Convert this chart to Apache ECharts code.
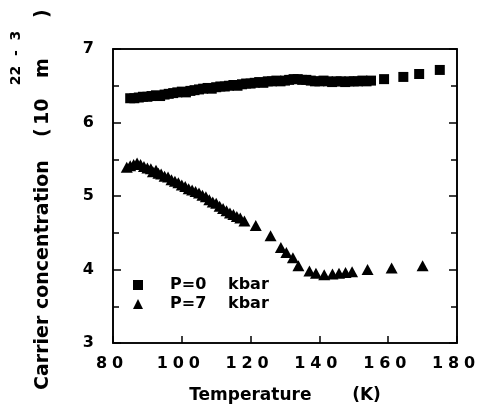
<!DOCTYPE html>
<html>
<head>
<meta charset="utf-8">
<script src="https://cdn.jsdelivr.net/npm/echarts@6/dist/echarts.min.js"></script>
<style>
html,body{margin:0;padding:0;background:#fff;}
#chart{width:484px;height:415px;}
</style>
</head>
<body>
<div id="chart"></div>
<script>
// ---- data ----
const seriesNames = ['P=0  kbar', 'P=7  kbar'];

const tempP0 = [85.0, 86.2, 87.5, 88.7, 90.0, 91.2, 92.5, 93.7, 95.0, 96.2, 97.5, 98.7,
  100.0, 101.2, 102.5, 103.7, 105.0, 106.2, 107.5, 108.7, 110.0, 111.2, 112.5, 113.7,
  115.0, 116.2, 117.5, 118.7, 120.0, 121.2, 122.5, 123.7, 125.0, 126.2, 127.5, 128.7,
  130.0, 131.2, 132.5, 133.7, 135.0, 136.2, 137.5, 138.7, 140.0, 141.2, 142.5, 143.7,
  145.0, 146.2, 147.5, 148.7, 150.0, 151.2, 152.5, 153.7, 155.0, 158.8, 164.4, 169.0, 175.0];
const concP0 = [6.33, 6.33, 6.34, 6.35, 6.35, 6.36, 6.37, 6.36, 6.38, 6.39, 6.40, 6.41,
  6.42, 6.41, 6.43, 6.44, 6.45, 6.46, 6.47, 6.46, 6.48, 6.49, 6.49, 6.50,
  6.51, 6.50, 6.52, 6.53, 6.53, 6.54, 6.55, 6.54, 6.56, 6.56, 6.57, 6.56,
  6.57, 6.58, 6.59, 6.59, 6.58, 6.58, 6.57, 6.56, 6.56, 6.57, 6.56, 6.55,
  6.56, 6.56, 6.55, 6.56, 6.56, 6.56, 6.57, 6.56, 6.57, 6.59, 6.62, 6.66, 6.715];

const tempP7 = [84.0, 85.0, 86.0, 87.0, 88.0, 89.0, 90.0, 91.0, 91.6, 92.5, 93.2, 94.0,
  95.0, 96.0, 97.0, 98.0, 99.0, 100.0, 101.0, 102.0, 103.0, 104.0, 105.0, 106.0,
  107.0, 108.0, 109.0, 110.0, 111.0, 112.0, 113.0, 114.0, 115.0, 116.0, 117.0, 118.2,
  121.5, 125.8, 128.8, 130.4, 132.3, 133.9, 137.1, 139.0, 141.4, 143.8, 145.7, 147.6,
  149.5, 154.0, 161.0, 170.0];
const concP7 = [5.39, 5.41, 5.43, 5.45, 5.43, 5.40, 5.38, 5.37, 5.33, 5.35, 5.31, 5.30,
  5.27, 5.26, 5.22, 5.20, 5.18, 5.15, 5.13, 5.10, 5.08, 5.06, 5.04, 5.01,
  4.99, 4.95, 4.92, 4.90, 4.86, 4.83, 4.80, 4.77, 4.75, 4.72, 4.70, 4.66,
  4.60, 4.46, 4.30, 4.23, 4.16, 4.05, 3.98, 3.95, 3.93, 3.94, 3.95, 3.96,
  3.97, 4.00, 4.02, 4.05];

const xTicks = [80, 100, 120, 140, 160, 180];
const yTicks = [3, 4, 5, 6, 7];

// ---- chart ----
const FONT = '"DejaVu Sans", "Liberation Sans", Arial, sans-serif';
const chart = echarts.init(document.getElementById('chart'), null, {renderer: 'canvas'});

function zip(xs, ys) { return xs.map((x, i) => [x, ys[i]]); }

const xLabelFmt = v => '{d|' + String(v).split('').join('}{d|') + '}{p|}';

const axisLineStyle = {color: '#000', width: 1.6};
const tickStyle = {color: '#000', width: 1.5};
const B = {fontFamily: FONT, fontWeight: 'bold', color: '#000'};

const option = {
  animation: false,
  backgroundColor: '#fff',
  grid: {left: 113, right: 23, top: 49, bottom: 72, containLabel: false,
         show: true, borderColor: '#000', borderWidth: 1.6, backgroundColor: 'transparent'},
  xAxis: [{
    type: 'value', position: 'bottom',
    min: xTicks[0], max: xTicks[xTicks.length - 1], interval: 20,
    name: '{a|Temperature}{b|(K)}', nameLocation: 'middle', nameGap: 44,
    nameTextStyle: {rich: {
      a: Object.assign({fontSize: 17, width: 163, align: 'left'}, B),
      b: Object.assign({fontSize: 17, align: 'left'}, B)
    }},
    axisLine: {show: true, onZero: false, lineStyle: axisLineStyle},
    axisTick: {show: true, inside: true, length: 7, lineStyle: tickStyle},
    splitLine: {show: false},
    axisLabel: {
      margin: 13, color: '#000', formatter: xLabelFmt,
      rich: {
        d: Object.assign({fontSize: 16, width: 16, align: 'center'}, B),
        p: {width: 7}
      }
    }
  }, {
    type: 'value', position: 'top',
    min: xTicks[0], max: xTicks[xTicks.length - 1], interval: 20,
    axisLine: {show: true, onZero: false, lineStyle: axisLineStyle},
    axisTick: {show: false}, axisLabel: {show: false}, splitLine: {show: false}
  }],
  yAxis: [{
    type: 'value', position: 'left',
    min: yTicks[0], max: yTicks[yTicks.length - 1], interval: 1,
    name: '{a|Carrier concentration}{b|(}{c|10}{d|m}{e|)}{f|}',
    nameLocation: 'middle', nameGap: 60, nameRotate: 90,
    nameTextStyle: {
      rich: {
        a: Object.assign({fontSize: 19, width: 253, align: 'left'}, B),
        b: Object.assign({fontSize: 19, width: 12, align: 'left'}, B),
        c: Object.assign({fontSize: 19, width: 47, align: 'left'}, B),
        d: Object.assign({fontSize: 19, width: 60, align: 'left'}, B),
        e: Object.assign({fontSize: 19, width: 8, align: 'left'}, B),
        f: {width: 8}
      }
    },
    axisLine: {show: true, onZero: false, lineStyle: axisLineStyle},
    axisTick: {show: true, inside: true, length: 8, lineStyle: tickStyle},
    minorTick: {show: true, splitNumber: 2, length: 6, lineStyle: tickStyle},
    splitLine: {show: false}, minorSplitLine: {show: false},
    axisLabel: Object.assign({margin: 19, fontSize: 16}, B)
  }, {
    type: 'value', position: 'right',
    min: yTicks[0], max: yTicks[yTicks.length - 1], interval: 1,
    axisLine: {show: true, onZero: false, lineStyle: axisLineStyle},
    axisTick: {show: true, inside: true, length: 8, lineStyle: tickStyle},
    minorTick: {show: true, splitNumber: 2, length: 6, lineStyle: tickStyle},
    axisLabel: {show: false}, splitLine: {show: false}, minorSplitLine: {show: false}
  }],
  legend: {
    orient: 'vertical', left: 128, top: 272,
    itemWidth: 10, itemHeight: 10, itemGap: 3,
    data: [{name: seriesNames[0], icon: 'rect'}, {name: seriesNames[1], icon: 'triangle'}],
    itemStyle: {color: '#000', opacity: 1},
    formatter: n => {
      const parts = n.split(/\s+/);
      return '{g|}{a|' + parts[0] + '}{b|' + parts[1] + '}';
    },
    textStyle: {
      lineHeight: 14,
      rich: {
        g: {width: 22},
        a: Object.assign({fontSize: 16, width: 58, align: 'left', lineHeight: 14}, B),
        b: Object.assign({fontSize: 16, align: 'left', lineHeight: 14}, B)
      }
    }
  },
  graphic: [{
    type: 'text', x: 16, y: 58, rotation: Math.PI / 2,
    style: {text: '22  -  3', fontFamily: FONT, fontWeight: 'bold', fontSize: 14, fill: '#000',
            align: 'center', verticalAlign: 'middle'}
  }],
  series: [{
    name: seriesNames[0], type: 'scatter', symbol: 'rect', symbolSize: 10,
    xAxisIndex: 0, yAxisIndex: 0,
    itemStyle: {color: '#000', opacity: 1}, emphasis: {disabled: true},
    data: zip(tempP0, concP0)
  }, {
    name: seriesNames[1], type: 'scatter', symbol: 'triangle', symbolSize: [12, 11],
    xAxisIndex: 1, yAxisIndex: 1,
    itemStyle: {color: '#000', opacity: 1}, emphasis: {disabled: true},
    data: zip(tempP7, concP7)
  }]
};
chart.setOption(option);
</script>
</body>
</html>
